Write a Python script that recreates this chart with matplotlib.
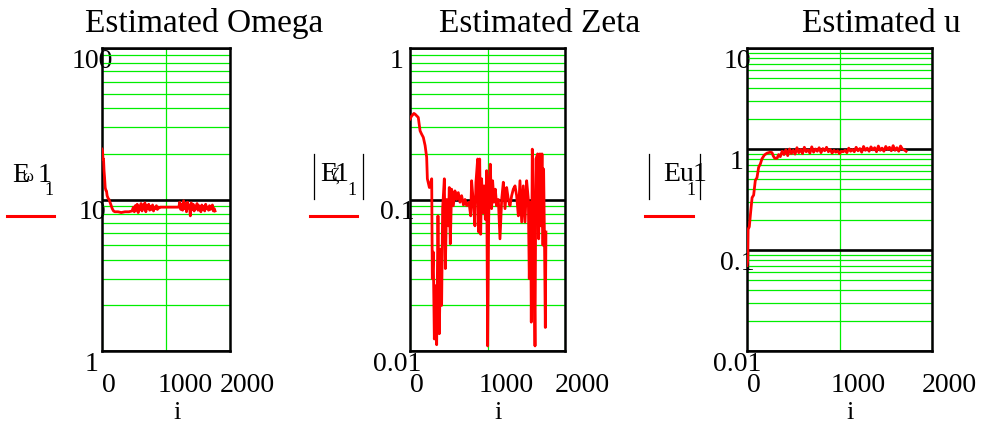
import numpy as np
import matplotlib
matplotlib.use('Agg')
import matplotlib.pyplot as plt
from matplotlib.lines import Line2D
from matplotlib.ticker import LogLocator, NullFormatter
from matplotlib.transforms import ScaledTranslation

plt.rcParams['font.family'] = ['Liberation Serif', 'DejaVu Serif']

# ---- data ----
omega_i = [0, 8, 16, 24, 32, 40, 50, 60, 70, 80, 95, 110, 125, 140, 160, 180, 200, 250, 300, 360, 420, 470,
           490, 505, 520, 535, 550, 565, 580, 595, 610, 625, 640, 655, 670, 685, 700, 715, 730, 745, 760, 775,
           790, 805, 820, 835, 850, 865, 880, 895,
           910, 1000, 1100, 1200, 1215,
           1230, 1245, 1260, 1275, 1290, 1305, 1320, 1335, 1350, 1365, 1380, 1395, 1410, 1425, 1440, 1455,
           1470, 1485, 1500, 1515, 1530, 1545, 1560, 1575, 1590, 1605, 1620, 1635, 1650, 1665, 1680, 1695,
           1710, 1725, 1740, 1755, 1766]
omega_v = [21.5, 21.0, 18.5, 18.5, 15.5, 14.0, 12.0, 11.5, 11.4, 10.6, 10.2, 10.0, 9.6, 9.2, 8.7, 8.4, 8.3,
           8.3, 8.2, 8.3, 8.3, 8.4,
           8.9, 8.3, 9.1, 8.5, 9.3, 8.2, 9.0, 8.6, 9.4, 8.4, 9.2, 8.8, 9.5, 8.3, 9.1, 8.7, 9.3, 8.5, 9.0, 8.6,
           9.2, 8.4, 8.9, 8.7, 9.1, 8.6, 8.9, 8.8,
           8.9, 8.9, 8.9, 8.9, 9.6,
           8.6, 9.3, 8.5, 9.8, 8.7, 9.4, 8.3, 9.6, 8.8, 9.2, 7.8, 9.5, 8.6, 9.3, 8.4, 9.0, 8.7, 9.4, 8.5, 9.1,
           8.8, 8.3, 9.2, 8.6, 9.0, 8.4, 9.3, 8.7, 8.9, 8.5, 9.1, 8.6, 8.8, 9.2, 8.4, 8.7, 8.4]

zeta_i = [0, 20, 50, 65, 107, 130, 150, 172, 195, 215,
          224, 250, 280, 288, 300, 314, 335, 344, 361, 378,
          396, 408, 421, 443, 456, 473, 494, 507, 520, 537,
          559, 580, 602, 623, 645, 666, 690, 710, 731, 761,
          783, 795, 817, 838, 851, 873, 886, 899, 912, 924,
          942, 955, 972, 989, 1002, 1015, 1023, 1036, 1053, 1066,
          1084, 1101, 1118, 1140, 1161, 1183, 1204, 1226, 1247, 1269,
          1290, 1312, 1333, 1355, 1376, 1398, 1419, 1441, 1462, 1484,
          1505, 1527, 1539, 1557, 1565, 1578, 1600, 1613, 1625, 1647,
          1660, 1677, 1690, 1703, 1716, 1724, 1737, 1746, 1754]
zeta_v = [0.34, 0.355, 0.37, 0.366, 0.348, 0.284, 0.27, 0.257, 0.227, 0.19,
          0.137, 0.12, 0.137, 0.030, 0.045, 0.012, 0.027, 0.011, 0.078, 0.013,
          0.047, 0.020, 0.087, 0.137, 0.035, 0.10, 0.067, 0.12, 0.051, 0.117,
          0.091, 0.114, 0.10, 0.111, 0.096, 0.106, 0.092, 0.10, 0.091, 0.096,
          0.078, 0.133, 0.096, 0.067, 0.13, 0.185, 0.061, 0.185, 0.059, 0.137,
          0.082, 0.123, 0.074, 0.155, 0.0108, 0.071, 0.133, 0.171, 0.087, 0.133,
          0.096, 0.117, 0.091, 0.10, 0.055, 0.10, 0.13, 0.087, 0.12, 0.10,
          0.091, 0.106, 0.117, 0.123, 0.106, 0.078, 0.133, 0.071, 0.123, 0.071,
          0.133, 0.10, 0.030, 0.096, 0.0155, 0.215, 0.045, 0.0108, 0.185, 0.20,
          0.055, 0.20, 0.067, 0.20, 0.05, 0.159, 0.045, 0.0143, 0.061]

u_i = [0, 8, 12, 25, 40, 55, 72, 90, 108, 126, 144, 162, 187, 216, 252, 270, 285, 300, 325, 342,
       360, 380, 400, 420, 440, 460, 480, 500, 520, 540,
       560, 580, 600, 620, 640, 660, 680, 700, 720, 740,
       760, 780, 800, 820, 840, 860, 880, 900, 920, 940,
       960, 980, 1000, 1020, 1040, 1060, 1080, 1100, 1120, 1140,
       1160, 1180, 1200, 1220, 1240, 1260, 1280, 1300, 1320, 1340,
       1360, 1380, 1400, 1420, 1440, 1460, 1480, 1500, 1520, 1540,
       1560, 1580, 1600, 1620, 1640, 1660, 1680, 1700, 1720]
u_v = [0.07, 0.08, 0.16, 0.17, 0.24, 0.33, 0.35, 0.49, 0.52, 0.66, 0.71, 0.80, 0.87, 0.91, 0.93, 0.92,
       0.85, 0.81, 0.81, 0.88,
       0.84, 0.95, 0.88, 0.98, 0.86, 1.00, 0.90, 0.97, 0.89, 1.03,
       0.92, 0.99, 0.90, 1.04, 0.94, 0.98, 0.91, 1.05, 0.93, 1.00,
       0.95, 1.03, 0.92, 1.01, 0.96, 1.04, 0.94, 0.99, 0.91, 0.97,
       0.93, 0.96, 0.90, 0.95, 0.94, 0.97, 0.92, 1.02, 0.95, 0.99,
       0.94, 1.04, 0.96, 1.01, 0.93, 1.06, 0.97, 1.02, 0.95, 1.05,
       0.98, 1.03, 0.94, 1.07, 0.97, 1.02, 0.95, 1.06, 0.99, 1.04,
       0.96, 1.08, 0.97, 1.03, 0.95, 1.07, 1.00, 0.98, 0.95]

x_ticks = [0, 1000, 2000]
x_ticklabels = ['0', '1000', '2000']

omega_yticks = [1, 10, 100]
omega_ylabels = ['1', '10', '100']
zeta_yticks = [0.01, 0.1, 1]
zeta_ylabels = ['0.01', '0.1', '1']
u_yticks = [0.01, 0.1, 1, 10]
u_ylabels = ['0.01', '0.1', '1', '10']

titles = ['Estimated Omega', 'Estimated Zeta', 'Estimated u']

# ---- layout in pixels ----
W, H = 983, 427


def fx(x):
    return x / W


def fy(y):
    return 1 - y / H


fig = plt.figure(figsize=(W / 100, H / 100), dpi=100)

green = '#00ee00'
red = '#ff0000'


def make_panel(left, right, i, v, yticks, ylabels, ypad_px):
    top, bottom = 49, 352
    ax = fig.add_axes([fx(left), fy(bottom), (right - left) / W, (bottom - top) / H])
    ax.plot(i, v, color=red, lw=2.0, zorder=3)
    ax.set_yscale('log')
    ax.set_xlim(0, 2000)
    ax.set_ylim(yticks[0], yticks[-1])
    ax.set_xticks(x_ticks)
    ax.set_xticklabels(x_ticklabels)
    ax.set_yticks(yticks)
    ax.set_yticklabels(ylabels)
    ax.yaxis.set_minor_locator(LogLocator(base=10, subs=np.arange(2, 10), numticks=20))
    ax.yaxis.set_minor_formatter(NullFormatter())
    ax.grid(True, axis='x', which='major', color=green, lw=0.9)
    ax.grid(True, axis='y', which='minor', color=green, lw=0.9)
    ax.grid(True, axis='y', which='major', color='black', lw=1.9)
    ax.tick_params(which='both', length=0, labelsize=20)
    ax.tick_params(axis='y', pad=ypad_px * 0.72)
    ax.tick_params(axis='x', pad=21 * 0.72)
    for s in ax.spines.values():
        s.set_linewidth(1.8)
    for lab in ax.get_yticklabels():
        lab.set_ha('center')
        lab.set_va('top')
    for lab, dx in zip(ax.get_xticklabels(), [7, 19, 17]):
        lab.set_transform(lab.get_transform() + ScaledTranslation(dx / 100, 0, fig.dpi_scale_trans))
    ax.set_xlabel('i', fontsize=19, va='center')
    ax.xaxis.set_label_coords(0.5 + 11 / (right - left), -(413 - 352) / (bottom - top))
    return ax


make_panel(102, 230, omega_i, omega_v, omega_yticks, omega_ylabels, 10)
make_panel(410, 565, zeta_i, zeta_v, zeta_yticks, zeta_ylabels, 13)
make_panel(747, 932, u_i, u_v, u_yticks, u_ylabels, 10)

for t, cx in zip(titles, [204, 540, 881]):
    fig.text(fx(cx), fy(32), t, ha='center', va='baseline', fontsize=24)

# y labels (Mathcad style) with legend strokes
fig.text(fx(21), fy(182), 'E', ha='center', va='baseline', fontsize=20)
fig.text(fx(28), fy(181), '\u03c9', ha='center', va='baseline', fontsize=12)
fig.text(fx(44.5), fy(182), '1', ha='center', va='baseline', fontsize=20)
fig.text(fx(49), fy(195), '1', ha='center', va='baseline', fontsize=13)

fig.text(fx(328.5), fy(181), 'E', ha='center', va='baseline', fontsize=20)
fig.text(fx(335), fy(181), '\u03b6', ha='center', va='baseline', fontsize=13)
fig.text(fx(342), fy(181), '1', ha='center', va='baseline', fontsize=20)
fig.text(fx(352), fy(195), '1', ha='center', va='baseline', fontsize=13)

fig.text(fx(663), fy(181), 'Eu', ha='left', va='baseline', fontsize=20)
fig.text(fx(700), fy(181), '1', ha='center', va='baseline', fontsize=20)
fig.text(fx(691), fy(195), '1', ha='center', va='baseline', fontsize=13)

for bx in [314, 363, 649, 700]:
    fig.add_artist(Line2D([fx(bx), fx(bx)], [fy(155), fy(200)], color='black', lw=0.9))

for x0, x1 in [(7, 54), (310, 357), (645, 693)]:
    fig.add_artist(Line2D([fx(x0), fx(x1)], [fy(217), fy(217)], color=red, lw=2.2))

fig.savefig('out.png', dpi=100)
